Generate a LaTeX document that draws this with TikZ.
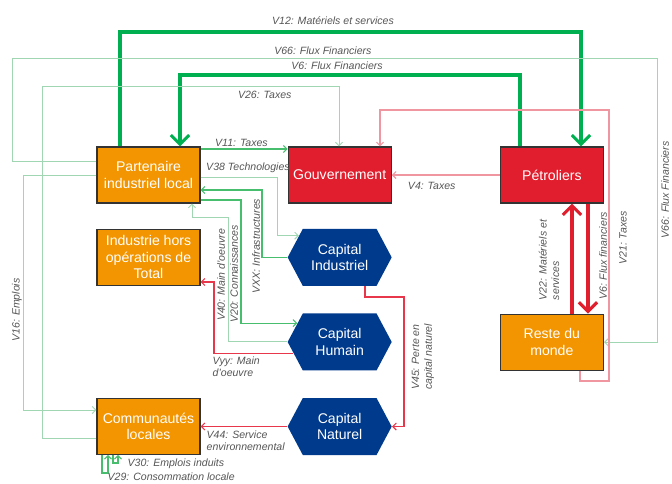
\documentclass[tikz,border=0pt]{standalone}
\usepackage{fontspec}
\setmainfont{Liberation Sans}
\usetikzlibrary{positioning,arrows.meta,shapes.symbols}

\definecolor{orangeT}{RGB}{242,149,0}
\definecolor{redT}{RGB}{224,30,45}
\definecolor{blueT}{RGB}{0,58,140}
\definecolor{greenT}{RGB}{0,176,80}
\definecolor{greenM}{RGB}{70,190,110}
\definecolor{greenL}{RGB}{160,215,178}
\definecolor{redM}{RGB}{232,55,75}
\definecolor{redL}{RGB}{240,150,160}
\definecolor{labelT}{RGB}{85,85,85}

\begin{document}
\begin{tikzpicture}[x=0.025cm,y=-0.025cm,
  box/.style={rectangle,draw=black!80,line width=0.8pt,fill=orangeT,text=white,
    minimum width=2.575cm,minimum height=1.4cm,align=center,
    font=\fontsize{10}{11.8}\selectfont},
  redbox/.style={box,fill=redT},
  capital/.style={signal,signal to=east and west,signal pointer angle=124,
    fill=blueT,text=white,minimum width=2.6cm,minimum height=1.425cm,
    align=center,font=\fontsize{10}{11.8}\selectfont},
  lbl/.style={font=\fontsize{7.5}{9}\selectfont\itshape,text=labelT,inner sep=1pt},
  bigflow/.style={line width=2.8pt,-{Straight Barb[length=6.5pt,width=13pt,line width=2.2pt]}},
  fineflow/.style={line width=0.8pt,-{Straight Barb[length=2.5pt,width=5pt]}},
]
\useasboundingbox (0,0) rectangle (672,483);

% acteurs
\node[box]     (Partenaire) at (148.5,175) {Partenaire\\industriel local};
\node[redbox]  (Gouv)       [right=2.175cm of Partenaire] {Gouvernement};
\node[redbox]  (Petroliers) [right=2.7cm of Gouv] {Pétroliers};
\node[box]     (IndustrieHors) [below=0.625cm of Partenaire] {Industrie hors\\opérations de\\Total};
\node[box]     (Communautes)   [below=2.8cm of IndustrieHors] {Communautés\\locales};
\node[box]     (Reste)      [below=2.75cm of Petroliers] {Reste du\\monde};

% capitaux
\node[capital] (CapInd) [below=0.625cm of Gouv]   {Capital\\Industriel};
\node[capital] (CapHum) [below=0.675cm of CapInd] {Capital\\Humain};
\node[capital] (CapNat) [below=0.675cm of CapHum] {Capital\\Naturel};

% flux principaux
\draw[bigflow,greenT] (Partenaire.north -| 120,0) |- (581,32)
  node[lbl,pos=0.731,above=3pt] {V12: Matériels et services}
  -- (Petroliers.north -| 581,0);
\draw[bigflow,greenT] (Petroliers.north -| 520,0) |- (180,75)
  node[lbl,pos=0.769,above=1.5pt] {V6: Flux Financiers}
  -- (Partenaire.north -| 180,0);
\draw[bigflow,redT] (Reste.north -| 572,0) -- (Petroliers.south -| 572,0);
\draw[bigflow,redT] (Petroliers.south -| 588,0) -- (Reste.north -| 588,0);

% flux secondaires
\draw[fineflow,greenL,line width=0.7pt] (Partenaire.west |- 0,161) -| (12,58)
  -- (657,58) node[lbl,pos=0.482,above=1pt] {V66: Flux Financiers}
  |- (Reste.east);
\draw[fineflow,greenL,line width=0.7pt] (Communautes.west |- 0,438) -| (42,86)
  -| (Gouv.north -| 339,0) node[lbl,pos=0.375,below=2pt] {V26: Taxes};
\draw[fineflow,greenL,line width=0.7pt] (Partenaire.west) -| (23,410)
  -- (Communautes.west |- 0,410);
\draw[fineflow,redL] (Reste.south -| 580,0) |- (609,381) |- (380,110)
  -- (Gouv.north -| 380,0);
\draw[fineflow,redL] (Petroliers.west) -- (Gouv.east)
  node[lbl,pos=0.63,below=4pt] {V4: Taxes};
\draw[fineflow,greenM] (Partenaire.east |- 0,149) -- (Gouv.west |- 0,149)
  node[lbl,pos=0.47,above=0pt] {V11: Taxes};
\draw[fineflow,greenL,line width=0.7pt] (Partenaire.east |- 0,177) -- (277,177)
  node[lbl,pos=0.62,above=1.5pt] {V38 Technologies} |- (CapInd.152);
\draw[fineflow,greenM] (CapInd.west) -| (262,190) -- (Partenaire.east |- 0,190);
\draw[fineflow,greenM] (Partenaire.east |- 0,200) -| (241,280) |- (CapHum.156);
\draw[fineflow,greenL,line width=0.7pt] (CapHum.west) -| (228,217)
  -| (Partenaire.south -| 192,0);
\draw[fineflow,redM] (CapHum.194) -| (214,282) -- (IndustrieHors.east |- 0,282);
\draw[fineflow,redM] (CapInd.south -| 365,0) |- (404,297) |- (CapNat.east);
\draw[fineflow,redM] (CapNat.west) -- (Communautes.east |- CapNat.west);
\draw[fineflow,greenM] (Communautes.south -| 102,0) |- (108,473)
  -- (Communautes.south -| 108,0);
\draw[fineflow,greenM] (Communautes.south -| 113,0) |- (118,463)
  -- (Communautes.south -| 118,0);

% etiquettes
\node[lbl,rotate=90] (lblV16) at (17,310) {V16: Emplois};
\node[lbl,rotate=90] (lblV66) at (665,190) {V66: Flux Financiers};
\node[lbl,rotate=90] (lblV21) at (623,238) {V21: Taxes};
\node[lbl,rotate=90] (lblV6)  at (603,256) {V6: Flux financiers};
\node[lbl,rotate=90,align=left] (lblV22) at (549,260) {V22: Matériels et\\services};
\node[lbl,rotate=90] (lblVXX) at (256,246) {VXX: Infrastructures};
\node[lbl,rotate=90] (lblV20) at (234,274) {V20: Connaissances};
\node[lbl,rotate=90] (lblV40) at (221,275) {V40: Main d'oeuvre};
\node[lbl,rotate=90,align=left] (lblV45) at (423,357) {V45: Perte en\\capital naturel};
\node[lbl,align=left,anchor=north west] (lblVyy) at (211,355) {Vyy: Main\\d'oeuvre};
\node[lbl,align=left,anchor=north west] (lblV44) at (205,429) {V44: Service\\environnemental};
\node[lbl,anchor=west] (lblV30) at (126,464) {V30: Emplois induits};
\node[lbl,anchor=west] (lblV29) at (106,477) {V29: Consommation locale};
\end{tikzpicture}
\end{document}
